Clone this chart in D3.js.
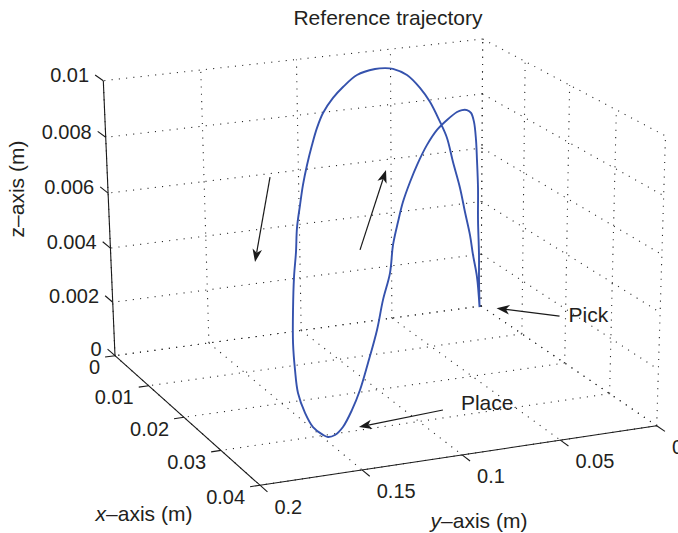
<!DOCTYPE html>
<html>
<head>
<meta charset="utf-8">
<script src="https://cdn.jsdelivr.net/npm/d3@7"></script>
<style>
  body { margin: 0; background: #fff; }
  svg { display: block; }
  text { font-family: "Liberation Sans", Arial, Helvetica, sans-serif; fill: #231f20; }
</style>
</head>
<body>
<svg id="chart" width="678" height="533"></svg>
<script>
// ---------------- data ----------------
const chartTitle = "Reference trajectory";
const xTicks = [0, 0.01, 0.02, 0.03, 0.04];
const xTickLabels = ["0", "0.01", "0.02", "0.03", "0.04"];
const yTicks = [0, 0.05, 0.1, 0.15, 0.2];
const yTickLabels = ["0", "0.05", "0.1", "0.15", "0.2"];
const zTicks = [0, 0.002, 0.004, 0.006, 0.008, 0.01];
const zTickLabels = ["0", "0.002", "0.004", "0.006", "0.008", "0.01"];

// trajectory: Pick -> up and over (big arc) -> Place -> back up -> down to Pick
const trajX = [0.0003, 0, 0, 0, 0, 0, 0, 0, 0, 0, 0, 0,
  0.00122, 0.00246, 0.00411, 0.00726, 0.01006, 0.01216, 0.01444, 0.01610, 0.01772, 0.01948,
  0.02108, 0.02253, 0.02412, 0.02549, 0.02704, 0.02885, 0.03052, 0.03161, 0.03237, 0.03244,
  0.03208, 0.03113, 0.03056, 0.03032, 0.02856, 0.02612, 0.02460, 0.02306, 0.02132, 0.02013,
  0.01876, 0.01816, 0.01717, 0.01619, 0.01482, 0.01343, 0.01145, 0.00944, 0.00741, 0.00535,
  0.00431, 0.00326, 0.00241, 0.00176, 0.00131, 0.00107, 0.00082, 0.00078, 0.00051, 0.00048, 0.0003];
const trajY = [0.0015, 0.00236, 0.00468, 0.00642, 0.00928, 0.01210, 0.01602, 0.01936, 0.02320, 0.02872, 0.03412, 0.04114,
  0.05125, 0.05815, 0.06694, 0.08300, 0.09609, 0.10556, 0.11538, 0.12187, 0.12776, 0.13392,
  0.13928, 0.14379, 0.14863, 0.15203, 0.15626, 0.16060, 0.16416, 0.16556, 0.16578, 0.16261,
  0.15804, 0.15120, 0.14760, 0.14354, 0.13588, 0.12617, 0.11883, 0.11138, 0.10295, 0.09724,
  0.09063, 0.08770, 0.08295, 0.07820, 0.07156, 0.06488, 0.05529, 0.04559, 0.03578, 0.02583,
  0.02081, 0.01573, 0.01163, 0.00850, 0.00632, 0.00517, 0.00395, 0.00375, 0.00247, 0.00231, 0.0015];
const trajZ = [0, 0.00114, 0.00201, 0.00278, 0.00368, 0.00461, 0.00561, 0.00653, 0.00715, 0.00793, 0.00848, 0.00900,
  0.00940, 0.00958, 0.00975, 0.00992, 0.00983, 0.00970, 0.00945, 0.00913, 0.00873, 0.00825,
  0.00776, 0.00724, 0.00665, 0.00598, 0.00532, 0.00440, 0.00347, 0.00267, 0.00195, 0.00123,
  0.00064, 0.00018, 0, 0, 0, 0.00023, 0.00070, 0.00143, 0.00235, 0.00325,
  0.00401, 0.00493, 0.00561, 0.00619, 0.00671, 0.00713, 0.00759, 0.00787, 0.00797, 0.00800,
  0.00794, 0.00781, 0.00760, 0.00719, 0.00647, 0.00569, 0.00462, 0.00341, 0.00204, 0.00108, 0];

const pickIndex = 0;
const placeIndex = 34;
const annotationLabels = ["Pick", "Place"];

// ---------------- scales & camera ----------------
const xs = d3.scaleLinear().domain([0, 0.04]).range([0, 1]);
const ys = d3.scaleLinear().domain([0, 0.2]).range([0, 1]);
const zs = d3.scaleLinear().domain([0, 0.01]).range([0, 1]);

// perspective camera (view of MATLAB axes)
const camA = [116.6, -369.94, -14.84, 481];
const camB = [81.39, 37.5, -268.34, 306];
const camC = [-0.09, -0.0343, -0.0343, 1];

function project(x, y, z) {
  const u = xs(x), v = ys(y), w = zs(z);
  const d = camC[0] * u + camC[1] * v + camC[2] * w + camC[3];
  return [
    (camA[0] * u + camA[1] * v + camA[2] * w + camA[3]) / d,
    (camB[0] * u + camB[1] * v + camB[2] * w + camB[3]) / d
  ];
}
function screenDir(p, dv) {
  const a = project(p[0], p[1], p[2]);
  const b = project(p[0] + dv[0], p[1] + dv[1], p[2] + dv[2]);
  const dx = b[0] - a[0], dy = b[1] - a[1], L = Math.hypot(dx, dy);
  return [dx / L, dy / L];
}

const [x0, x1] = xs.domain(), [y0, y1] = ys.domain(), [z0, z1] = zs.domain();

const svg = d3.select("#chart");
svg.append("rect").attr("width", 678).attr("height", 533).attr("fill", "#fff");

const line3 = d3.line().x(d => d[0]).y(d => d[1]);

// ---------------- grid (dotted) ----------------
const grid = [];
// back wall x = x0
yTicks.forEach(y => grid.push([[x0, y, z0], [x0, y, z1]]));
zTicks.forEach(z => grid.push([[x0, y0, z], [x0, y1, z]]));
// back wall y = y0
xTicks.forEach(x => grid.push([[x, y0, z0], [x, y0, z1]]));
zTicks.forEach(z => grid.push([[x0, y0, z], [x1, y0, z]]));
// floor z = z0
xTicks.forEach(x => grid.push([[x, y0, z0], [x, y1, z0]]));
yTicks.forEach(y => grid.push([[x0, y, z0], [x1, y, z0]]));

svg.append("g").selectAll("path").data(grid).join("path")
  .attr("d", seg => line3(seg.map(p => project(...p))))
  .attr("fill", "none")
  .attr("stroke", "#2a2a2a")
  .attr("stroke-width", 1.1)
  .attr("stroke-dasharray", "1.1,6.2");

// ---------------- axes ----------------
const axes = [
  [[x0, y1, z0], [x0, y1, z1]],  // z axis
  [[x0, y1, z0], [x1, y1, z0]],  // x axis
  [[x1, y1, z0], [x1, y0, z0]]   // y axis
];
svg.append("g").selectAll("path").data(axes).join("path")
  .attr("d", seg => line3(seg.map(p => project(...p))))
  .attr("fill", "none").attr("stroke", "#1a1a1a").attr("stroke-width", 1.1);

const tickLen = 10;
function drawTicks(ticks, labels, pointOf, dirVec, labelDx, labelDy, anchor) {
  const g = svg.append("g");
  ticks.forEach((t, i) => {
    const p = pointOf(t);
    const a = project(...p);
    const dir = screenDir(p, dirVec);
    const b = [a[0] + dir[0] * tickLen, a[1] + dir[1] * tickLen];
    g.append("line").attr("x1", a[0]).attr("y1", a[1]).attr("x2", b[0]).attr("y2", b[1])
      .attr("stroke", "#1a1a1a").attr("stroke-width", 1.1);
    g.append("text").attr("x", b[0] + labelDx).attr("y", b[1] + labelDy)
      .attr("text-anchor", anchor).attr("dy", "0.36em")
      .attr("font-size", 20).text(labels[i]);
  });
}
drawTicks(zTicks, zTickLabels, z => [x0, y1, z], [-0.001, 0, 0], -6, 0, "end");
drawTicks(xTicks, xTickLabels, x => [x, y1, z0], [0, 0.005, 0], -5, 10, "end");
drawTicks(yTicks, yTickLabels, y => [x1, y, z0], [0.001, 0, 0], 7, 15, "start");

// ---------------- trajectory ----------------
const pts = trajX.map((x, i) => project(x, trajY[i], trajZ[i]));
svg.append("path")
  .attr("d", d3.line().curve(d3.curveCatmullRom.alpha(0.5))(pts))
  .attr("fill", "none")
  .attr("stroke", "#3552ad")
  .attr("stroke-width", 1.9)
  .attr("stroke-linejoin", "round");

// ---------------- annotations ----------------
function arrow(tail, tip) {
  const g = svg.append("g");
  const ang = Math.atan2(tip[1] - tail[1], tip[0] - tail[0]);
  const L = 13, W = 4.8, N = 9.5;
  g.append("line").attr("x1", tail[0]).attr("y1", tail[1])
    .attr("x2", tip[0] - Math.cos(ang) * N).attr("y2", tip[1] - Math.sin(ang) * N)
    .attr("stroke", "#1a1a1a").attr("stroke-width", 1.2);
  g.append("path")
    .attr("d", `M0,0 L${-L},${-W} L${-N},0 L${-L},${W} Z`)
    .attr("transform", `translate(${tip[0]},${tip[1]}) rotate(${ang * 180 / Math.PI})`)
    .attr("fill", "#1a1a1a");
}
const pick = pts[pickIndex];
const place = pts[placeIndex];
arrow([pick[0] + 80, pick[1] + 9], [pick[0] + 17, pick[1] + 1]);
svg.append("text").attr("x", pick[0] + 89).attr("y", pick[1] + 15)
  .attr("font-size", 21).text(annotationLabels[0]);
arrow([place[0] + 115, place[1] - 27], [place[0] + 31, place[1] - 10]);
svg.append("text").attr("x", place[0] + 133).attr("y", place[1] - 27)
  .attr("font-size", 21).text(annotationLabels[1]);

// direction-of-motion arrows beside the two branches
const leftRef = pts[23];   // descending branch
const midRef = pts[43];    // ascending branch
arrow([leftRef[0] - 30, leftRef[1] - 28], [leftRef[0] - 45, leftRef[1] + 57]);
arrow([midRef[0] - 33, midRef[1] + 5], [midRef[0] - 7, midRef[1] - 75]);

// ---------------- titles ----------------
svg.append("text").attr("x", 388).attr("y", 25).attr("text-anchor", "middle")
  .attr("font-size", 21).text(chartTitle);

const xl = svg.append("text").attr("x", 144).attr("y", 521).attr("text-anchor", "middle").attr("font-size", 21);
xl.append("tspan").attr("font-style", "italic").text("x");
xl.append("tspan").text("\u2013axis (m)");

const yl = svg.append("text").attr("x", 479).attr("y", 528).attr("text-anchor", "middle").attr("font-size", 21);
yl.append("tspan").attr("font-style", "italic").text("y");
yl.append("tspan").text("\u2013axis (m)");

svg.append("text").attr("transform", "translate(24,189) rotate(-90)")
  .attr("text-anchor", "middle").attr("font-size", 21).text("z\u2013axis (m)");
</script>
</body>
</html>
